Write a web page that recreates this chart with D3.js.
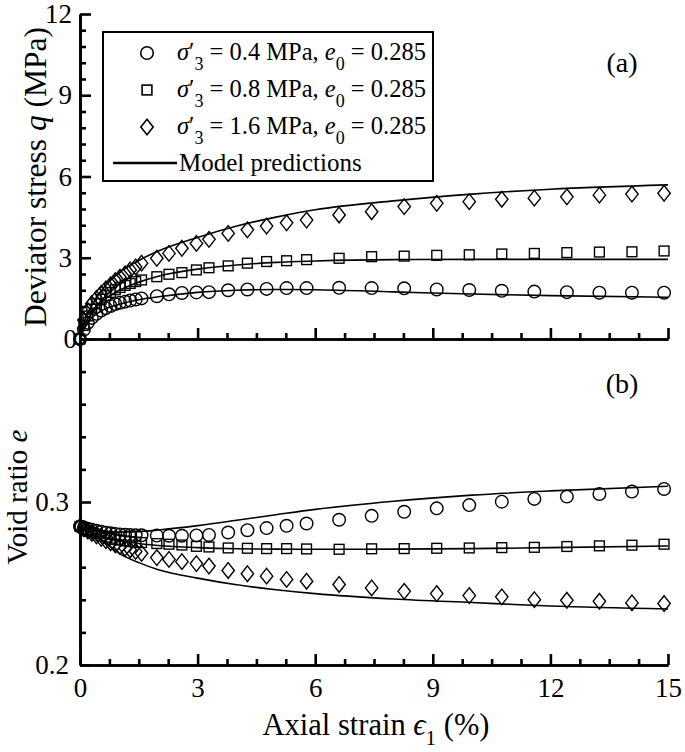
<!DOCTYPE html>
<html><head><meta charset="utf-8">
<script src="https://cdn.jsdelivr.net/npm/d3@7"></script>
<style>
body{margin:0;background:#fff}
svg{display:block}
text{font-family:"Liberation Serif","Times New Roman",serif;fill:#000}
</style>
</head><body>
<svg id="chart" width="685" height="752"></svg>
<script>
// ---------- data ----------
const strain = [0,0.1,0.2,0.3,0.42,0.54,0.66,0.78,0.9,1.02,1.15,1.28,1.42,1.57,1.96,2.27,2.6,2.97,3.29,3.78,4.27,4.76,5.27,5.78,6.61,7.44,8.27,9.1,9.93,10.76,11.59,12.42,13.25,14.08,14.9];

const q04 = [0,0.35,0.6,0.78,0.93,1.05,1.14,1.22,1.29,1.34,1.38,1.42,1.46,1.5,1.58,1.65,1.7,1.72,1.73,1.8,1.83,1.85,1.88,1.88,1.89,1.88,1.87,1.83,1.81,1.78,1.75,1.73,1.71,1.71,1.71];
const q08 = [0,0.5,0.85,1.1,1.3,1.47,1.6,1.72,1.82,1.9,1.98,2.05,2.12,2.18,2.3,2.39,2.45,2.55,2.63,2.7,2.8,2.86,2.89,2.93,2.98,3.04,3.06,3.09,3.11,3.14,3.16,3.19,3.21,3.22,3.25];
const q16 = [0,0.7,1.05,1.3,1.5,1.68,1.85,2.0,2.15,2.28,2.4,2.55,2.66,2.8,2.98,3.16,3.35,3.53,3.68,3.9,4.03,4.17,4.29,4.39,4.58,4.7,4.89,5.01,5.07,5.16,5.2,5.25,5.31,5.35,5.38];

const e04 = [0.285,0.2843,0.2836,0.283,0.2823,0.2817,0.2812,0.2808,0.2804,0.2801,0.2799,0.2797,0.2796,0.2796,0.2794,0.2793,0.2793,0.2795,0.2798,0.2813,0.2827,0.284,0.2854,0.2868,0.2891,0.2915,0.294,0.2961,0.2981,0.3002,0.3019,0.3033,0.3049,0.3064,0.308];
const e08 = [0.285,0.2838,0.2826,0.2815,0.2804,0.2794,0.2785,0.2778,0.2771,0.2766,0.2761,0.2757,0.2754,0.2751,0.2745,0.2741,0.2736,0.2728,0.2724,0.2718,0.2716,0.2714,0.2714,0.2712,0.271,0.2713,0.2714,0.2716,0.2718,0.272,0.2722,0.2727,0.2731,0.2735,0.2741];
const e16 = [0.285,0.2836,0.2822,0.2808,0.2792,0.2777,0.2763,0.275,0.2738,0.2727,0.2717,0.2707,0.2697,0.2685,0.2659,0.2648,0.2634,0.2622,0.2607,0.258,0.256,0.2545,0.2525,0.2514,0.2494,0.2473,0.2452,0.2438,0.2426,0.2418,0.2401,0.2397,0.2391,0.2381,0.2377];

// model predictions
const modelStrain = [0,0.1,0.25,0.5,1,1.5,2,3,4,5,6,8,10,12,15];
const mq04 = [0,0.35,0.7,1.0,1.28,1.45,1.56,1.72,1.8,1.83,1.82,1.74,1.66,1.6,1.54];
const mq08 = [0,0.45,0.85,1.3,1.8,2.1,2.32,2.58,2.73,2.83,2.88,2.93,2.94,2.94,2.94];
const mq16 = [0,0.6,1.1,1.7,2.45,2.9,3.25,3.75,4.17,4.5,4.77,5.1,5.35,5.53,5.69];
const me04 = [0.285,0.2843,0.2834,0.2825,0.2815,0.2818,0.2828,0.2855,0.2888,0.2922,0.2955,0.3005,0.3042,0.3068,0.3097];
const me08 = [0.285,0.2838,0.2818,0.2795,0.2765,0.2745,0.2733,0.272,0.2713,0.2711,0.271,0.2711,0.2714,0.272,0.273];
const me16 = [0.285,0.2836,0.2814,0.2777,0.2685,0.2628,0.2585,0.2533,0.2492,0.2462,0.2438,0.2405,0.2383,0.2362,0.2344];

const xMajor = [0,3,6,9,12,15];
const qMajor = [0,3,6,9,12];
const eMajor = [0.2,0.3];
const legendLabels = ["0.4","0.8","1.6"];

// ---------- drawing ----------
const svg = d3.select("#chart");
const x = d3.scaleLinear().domain([0,15]).range([80,668]);
const yq = d3.scaleLinear().domain([0,12]).range([339,14]);
const ye = d3.scaleLinear().domain([0.2,0.4]).range([665,339]);

const xMinor = d3.range(0,15.001,0.75).filter(v => Math.abs(v/3 - Math.round(v/3)) > 1e-6);
const qMinor = d3.range(0,12.001,0.6).filter(v => Math.abs(v/3 - Math.round(v/3)) > 1e-6);
const eMinor = d3.range(0.2,0.4001,0.02).filter(v => Math.abs(v*10 - Math.round(v*10)) > 1e-6);

const AX = 2.6;
function styleAxis(g){
  g.attr("font-family",null);
  g.selectAll("path.domain").attr("stroke","#000").attr("stroke-width",AX);
  g.selectAll(".tick line").attr("stroke","#000").attr("stroke-width",AX);
  g.selectAll(".tick text").attr("font-size",27).attr("fill","#000");
}

// bottom axes
function xAxis(yPos, labels){
  const gMin = svg.append("g").attr("transform",`translate(0,${yPos})`)
    .call(d3.axisBottom(x).tickValues(xMinor).tickSizeInner(-6).tickSizeOuter(0).tickFormat(""));
  styleAxis(gMin);
  const g = svg.append("g").attr("transform",`translate(0,${yPos})`)
    .call(d3.axisBottom(x).tickValues(xMajor).tickSizeInner(-11).tickSizeOuter(0).tickPadding(1)
      .tickFormat(labels ? d3.format("d") : ""));
  styleAxis(g);
  g.selectAll(".tick text").attr("dy","1.15em");
  return g;
}
xAxis(339,false);
xAxis(665,true);

// left axes
{
  const gMin = svg.append("g").attr("transform","translate(80,0)")
    .call(d3.axisLeft(yq).tickValues(qMinor).tickSizeInner(-6).tickSizeOuter(0).tickFormat(""));
  styleAxis(gMin);
  const g = svg.append("g").attr("transform","translate(80,0)")
    .call(d3.axisLeft(yq).tickValues(qMajor).tickSizeInner(-11).tickSizeOuter(0).tickFormat(d3.format("d")));
  styleAxis(g);
  g.selectAll(".tick text").attr("x",d => d===0 ? -3 : -8);
}
{
  const gMin = svg.append("g").attr("transform","translate(80,0)")
    .call(d3.axisLeft(ye).tickValues(eMinor).tickSizeInner(-6).tickSizeOuter(0).tickFormat(""));
  styleAxis(gMin);
  const g = svg.append("g").attr("transform","translate(80,0)")
    .call(d3.axisLeft(ye).tickValues(eMajor).tickSizeInner(-11).tickSizeOuter(0).tickFormat(d3.format(".1f")));
  styleAxis(g);
  g.selectAll(".tick text").attr("x",-11);
}

// model lines
const lineQ = d3.line().x((d,i)=>x(modelStrain[i])).y(d=>yq(d)).curve(d3.curveMonotoneX);
const lineE = d3.line().x((d,i)=>x(modelStrain[i])).y(d=>ye(d)).curve(d3.curveMonotoneX);
[mq04,mq08,mq16].forEach(s => svg.append("path").attr("d",lineQ(s)).attr("fill","none").attr("stroke","#000").attr("stroke-width",1.6));
[me04,me08,me16].forEach(s => svg.append("path").attr("d",lineE(s)).attr("fill","none").attr("stroke","#000").attr("stroke-width",1.6));

// markers
function marker(g, type, cx, cy){
  if(type==="circle") g.append("circle").attr("cx",cx).attr("cy",cy).attr("r",6.3);
  else if(type==="square") g.append("rect").attr("x",cx-4.9).attr("y",cy-4.9).attr("width",9.8).attr("height",9.8);
  else g.append("path").attr("d",`M${cx},${cy-7.8}L${cx+6.2},${cy}L${cx},${cy+7.8}L${cx-6.2},${cy}Z`);
}
const mg = svg.append("g").attr("fill","none").attr("stroke","#000").attr("stroke-width",1.4);
[[q04,"circle"],[q08,"square"],[q16,"diamond"]].forEach(([s,t]) => s.forEach((v,i)=>marker(mg,t,x(strain[i]),yq(v))));
[[e04,"circle"],[e08,"square"],[e16,"diamond"]].forEach(([s,t]) => s.forEach((v,i)=>marker(mg,t,x(strain[i]),ye(v))));

// axis titles
svg.append("text").attr("transform","translate(46,177) rotate(-90)").attr("text-anchor","middle").attr("font-size",31.5)
  .html('Deviator stress <tspan font-style="italic">q</tspan> (MPa)');
svg.append("text").attr("transform","translate(27,497) rotate(-90)").attr("text-anchor","middle").attr("font-size",29)
  .html('Void ratio <tspan font-style="italic">e</tspan>');
svg.append("text").attr("x",376).attr("y",735).attr("text-anchor","middle").attr("font-size",30.5)
  .html('Axial strain <tspan font-style="italic">ϵ</tspan><tspan font-size="21" dy="10">1</tspan><tspan dy="-10"> (%)</tspan>');

// panel labels
svg.append("text").attr("x",622).attr("y",72).attr("text-anchor","middle").attr("font-size",28).text("(a)");
svg.append("text").attr("x",622).attr("y",393).attr("text-anchor","middle").attr("font-size",28).text("(b)");

// legend
const lg = svg.append("g");
lg.append("rect").attr("x",103).attr("y",32).attr("width",330).attr("height",149).attr("fill","#fff").attr("stroke","#000").attr("stroke-width",2);
const rowsY = [53,90,127];
const lm = lg.append("g").attr("fill","none").attr("stroke","#000").attr("stroke-width",1.6);
["circle","square","diamond"].forEach((t,i)=>marker(lm,t,147,rowsY[i]));
legendLabels.forEach((lab,i)=>{
  lg.append("text").attr("x",177).attr("y",rowsY[i]+7).attr("font-size",24.5)
    .html(`<tspan font-style="italic">σ</tspan>′<tspan font-size="18" dy="10">3</tspan><tspan dy="-10"> = ${lab} MPa, </tspan><tspan font-style="italic">e</tspan><tspan font-size="18" dy="10">0</tspan><tspan dy="-10"> = 0.285</tspan>`);
});
lg.append("line").attr("x1",113).attr("x2",177).attr("y1",163).attr("y2",163).attr("stroke","#000").attr("stroke-width",2.6);
lg.append("text").attr("x",179).attr("y",171).attr("font-size",25).text("Model predictions");
</script>
</body></html>
